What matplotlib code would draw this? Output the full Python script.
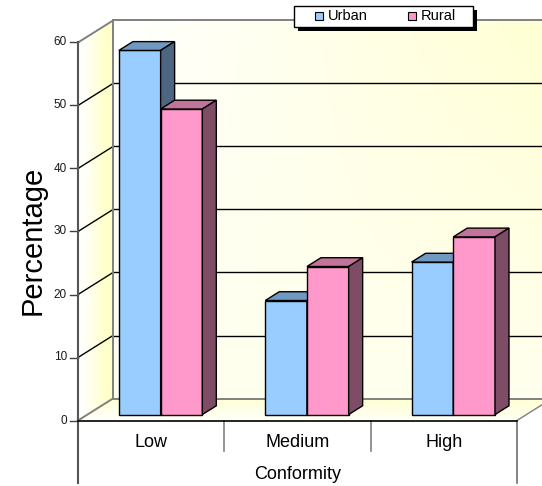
import numpy as np
import matplotlib.pyplot as plt
from matplotlib.patches import Polygon, Rectangle

plt.rcParams['font.family'] = ['Liberation Sans', 'DejaVu Sans']

categories = ["Low", "Medium", "High"]
series_names = ["Urban", "Rural"]
urban = [57.8, 18.1, 24.2]
rural = [48.5, 23.5, 28.2]
yticks = [0, 10, 20, 30, 40, 50, 60]

front_colors = ["#99CCFF", "#FF99CC"]
top_colors = ["#7099C2", "#C27399"]
side_colors = ["#4C6682", "#7F4C66"]

W, H = 542, 486
fig = plt.figure(figsize=(W / 100, H / 100), dpi=100)
ax = fig.add_axes([0, 0, 1, 1])
ax.set_axis_off()

# front plane: categories 0..3 over px 78..517, values 0..60 over px 420.5..42
X0, X3 = 78, 517
Y0, PPU = 420.5, 6.3
SX = (X3 - X0) / 3
XLIM = (-X0 / SX, (W - X0) / SX)
YLIM = ((Y0 - H) / PPU, Y0 / PPU)

# oblique offset for full depth of the box
DX, DY = 35 / SX, 22 / PPU
YMAX = yticks[-1]
NCAT = len(categories)


def proj(x, y, d):
    return (x + d * DX, y + d * DY)


def px(x, y):
    # pixel position -> data position, for layout items
    return ((x - X0) / SX, (Y0 - y) / PPU)


def mix(a, yellow):
    a = np.clip(a, 0, 1)[..., None]
    white = np.array([1.0, 1.0, 1.0])
    return white * (1 - a) + np.array(yellow) * a


def shade(pts, func, res=240):
    pts = np.array(pts)
    xa, xb = pts[:, 0].min(), pts[:, 0].max()
    ya, yb = pts[:, 1].min(), pts[:, 1].max()
    gx, gy = np.meshgrid(np.linspace(xa, xb, res), np.linspace(ya, yb, res))
    im = ax.imshow(func(gx, gy), extent=(xa, xb, ya, yb), origin='lower',
                   aspect='auto', interpolation='bilinear', zorder=0)
    clip = Polygon(pts, closed=True, facecolor='none', edgecolor='none')
    ax.add_patch(clip)
    im.set_clip_path(clip)


def back_tint(gx, gy):
    u = (gx - DX) / NCAT
    v = (gy - DY) / YMAX
    return mix(0.3 * (1 - v) + 0.8 * u * v, (1.0, 1.0, 0.78))


# back wall
back = [proj(0, 0, 1), proj(NCAT, 0, 1), proj(NCAT, YMAX, 1), proj(0, YMAX, 1)]
shade(back, back_tint)

# left wall
left = [proj(0, 0, 0), proj(0, 0, 1), proj(0, YMAX, 1), proj(0, YMAX, 0)]
shade(left, lambda gx, gy: mix(np.interp(gx / DX, [0, 0.2, 0.85, 1], [0.0, 0.1, 0.9, 0.7]),
                               (1.0, 1.0, 0.75)))

# floor
floor = [proj(0, 0, 0), proj(NCAT, 0, 0), proj(NCAT, 0, 1), proj(0, 0, 1)]
shade(floor, lambda gx, gy: mix(np.interp(gy / DY, [0, 1], [0.1, 0.8])
                                + 0.15 * gx / NCAT, (1.0, 1.0, 0.8)))

# gridlines on the walls
for v in yticks:
    col = '#808080' if v in (0, YMAX) else 'black'
    lw = 1.4 if v in (0, YMAX) else 1
    a, b = proj(0, v, 0), proj(0, v, 1)
    ax.plot([a[0], b[0]], [a[1], b[1]], color=col, lw=lw, zorder=1)
    c = proj(NCAT, v, 1)
    ax.plot([b[0], c[0]], [b[1], c[1]], color=col, lw=lw, zorder=1)
    ax.plot([-8 / SX, 0], [v, v], color='#404040', lw=1, zorder=1)
    ax.text(-11 / SX, v, str(v), ha='right', va='center', fontsize=8.5, color='#1a1a1a')

a, b = proj(0, 0, 1), proj(0, YMAX, 1)
ax.plot([a[0], b[0]], [a[1], b[1]], color='#808080', lw=1.4, zorder=1)
a, b = proj(NCAT, 0, 0), proj(NCAT, 0, 1)
ax.plot([a[0], b[0]], [a[1], b[1]], color='#808080', lw=1, zorder=1)

# category axis
low_sep = px(0, 451)[1]
low_out = px(0, 483)[1]
ax.plot([0, 0], [low_out, YMAX], color='#555555', lw=1.5, zorder=1)
ax.plot([NCAT, NCAT], [low_out, 0], color='#707070', lw=1.2, zorder=1)
for k in range(1, NCAT):
    ax.plot([k, k], [low_sep, 0], color='#808080', lw=1.2, zorder=1)
ax.plot([0, NCAT], [0, 0], color='black', lw=1.2, zorder=1)

# bars
w = 0.285
d0, d1 = 0.27, 0.67
z = 3
for i, cat in enumerate(categories):
    c = i + 0.5
    for j, vals in enumerate([urban, rural]):
        v = vals[i]
        x0 = c - w + j * w
        x1 = x0 + w
        ax.bar(x0 + d0 * DX, v, width=w, bottom=d0 * DY, align='edge',
               color=front_colors[j], edgecolor='black', lw=1, zorder=z)
        top = [proj(x0, v, d0), proj(x1, v, d0), proj(x1, v, d1), proj(x0, v, d1)]
        side = [proj(x1, 0, d0), proj(x1, 0, d1), proj(x1, v, d1), proj(x1, v, d0)]
        ax.add_patch(Polygon(top, closed=True, facecolor=top_colors[j],
                             edgecolor='black', lw=1, zorder=z))
        ax.add_patch(Polygon(side, closed=True, facecolor=side_colors[j],
                             edgecolor='black', lw=1, zorder=z))
        z += 1
    ax.text(c, px(0, 442)[1], cat, ha='center', va='center', fontsize=13)

ax.text(NCAT / 2, px(0, 474)[1], "Conformity", ha='center', va='center', fontsize=13)
ax.text(px(33, 0)[0], px(0, 240)[1], "Percentage", rotation=90,
        ha='center', va='center', fontsize=21)

# legend box with drop shadow
bx0, by0 = px(294, 27)
bx1, by1 = px(473, 6)
sdx, sdy = 4 / SX, -4 / PPU
ax.add_patch(Rectangle((bx0 + sdx, by0 + sdy), bx1 - bx0, by1 - by0,
                       facecolor='black', edgecolor='none', zorder=20))
ax.add_patch(Rectangle((bx0, by0), bx1 - bx0, by1 - by0,
                       facecolor='white', edgecolor='black', lw=1, zorder=21))
ym = (by0 + by1) / 2
for name, col, mx in zip(series_names, front_colors, [315, 408]):
    sx0, sy0 = px(mx, 20.5)
    sx1, sy1 = px(mx + 8, 12.5)
    ax.add_patch(Rectangle((sx0, sy0), sx1 - sx0, sy1 - sy0, facecolor=col,
                           edgecolor='black', lw=0.8, zorder=22))
    ax.text(px(mx + 13, 0)[0], ym, name, ha='left', va='center',
            fontsize=10.5, zorder=22)

ax.set_xlim(*XLIM)
ax.set_ylim(*YLIM)
fig.savefig("out.png", dpi=100)
